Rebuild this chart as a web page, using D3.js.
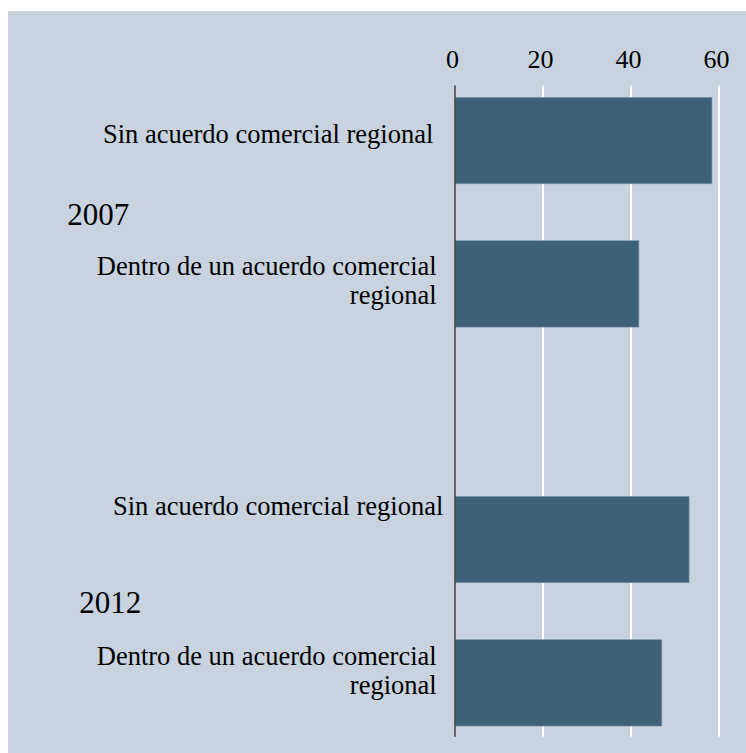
<!DOCTYPE html>
<html>
<head>
<meta charset="utf-8">
<script src="https://cdn.jsdelivr.net/npm/d3@7"></script>
<style>
  html, body { margin: 0; padding: 0; background: #ffffff; }
  svg { display: block; }
  text { font-family: "Liberation Serif", "Times New Roman", serif; fill: #000; }
</style>
</head>
<body>
<svg id="chart" width="746" height="753" font-family="'Liberation Serif', 'Times New Roman', serif"></svg>
<script>
// ---- data ----
const years = ["2007", "2012"];
const categories = ["Sin acuerdo comercial regional", "Dentro de un acuerdo comercial regional"];
const categoryLines = [["Sin acuerdo comercial regional"], ["Dentro de un acuerdo comercial", "regional"]];
const values2007 = [58.4, 41.8];
const values2012 = [53.2, 47.0];
const tickValues = [0, 20, 40, 60];

// ---- layout ----
const W = 746, H = 753;
const bg = { x: 8, y: 11 };
const plotTop = 85.5, plotBottom = 736.7;
const FONT = "'Liberation Serif', 'Times New Roman', serif";
const svg = d3.select("#chart");

svg.append("rect").attr("x", bg.x).attr("y", bg.y)
  .attr("width", W - bg.x).attr("height", H - bg.y)
  .attr("fill", "#c8d3df");

const x = d3.scaleLinear().domain([0, 60]).range([455, 719]);
const yYear = d3.scalePoint().domain(years).range([212.25, 611.2]);
const yInner = d3.scaleBand().domain(categories).range([-143.3, 143.3])
  .paddingInner(0.397).paddingOuter(0.1985);

const rows = [];
years.forEach((yr, gi) => {
  const vals = gi === 0 ? values2007 : values2012;
  categories.forEach((c, ci) => rows.push({ year: yr, cat: c, ci, gi, value: vals[ci] }));
});

// gridlines
svg.append("g").selectAll("line").data(tickValues.filter(t => t !== 0)).join("line")
  .attr("x1", d => x(d)).attr("x2", d => x(d))
  .attr("y1", plotTop).attr("y2", plotBottom)
  .attr("stroke", "#ffffff").attr("stroke-width", 2);

// top axis tick labels
const axis = d3.axisTop(x).tickValues(tickValues).tickSize(0).tickPadding(0).tickFormat(d3.format("d"));
const ag = svg.append("g").attr("transform", "translate(-3,68.3)").call(axis)
  .attr("font-family", FONT).attr("font-size", 26);
ag.select(".domain").remove();
ag.selectAll("text").attr("font-size", 26).attr("dy", 0)
  .attr("font-family", FONT).attr("fill", "#000");

// bars
svg.append("g").selectAll("rect").data(rows).join("rect")
  .attr("x", x(0))
  .attr("y", d => yYear(d.year) + yInner(d.cat))
  .attr("width", d => x(d.value) - x(0))
  .attr("height", yInner.bandwidth())
  .attr("fill", "#3e6079")
  .attr("stroke", "#7f9ab0").attr("stroke-width", 0.6);

// zero axis line
svg.append("line").attr("x1", x(0)).attr("x2", x(0))
  .attr("y1", plotTop).attr("y2", plotBottom)
  .attr("stroke", "#4a4a4a").attr("stroke-width", 1.6);

// category labels (layout offsets per row)
const labelRight = [[433.3, 436.7], [443.3, 436.7]];
const labelDy = [[2.8, -9], [-24.7, -17.7]];
const lineH = 29;
rows.forEach(d => {
  const cy = yYear(d.year) + yInner(d.cat) + yInner.bandwidth() / 2;
  const t = svg.append("text")
    .attr("text-anchor", "end")
    .attr("font-family", FONT)
    .attr("font-size", 26.5);
  categoryLines[d.ci].forEach((ln, li) => {
    t.append("tspan")
      .attr("x", labelRight[d.gi][d.ci])
      .attr("y", cy + labelDy[d.gi][d.ci] + li * lineH)
      .text(ln);
  });
});

// year labels
const yearX = [67.3, 79.3];
const yearDy = [12.75, 2.1];
svg.append("g").selectAll("text").data(years).join("text")
  .attr("x", (d, i) => yearX[i])
  .attr("y", (d, i) => yYear(d) + yearDy[i])
  .attr("font-family", FONT)
  .attr("font-size", 31)
  .text(d => d);
</script>
</body>
</html>
